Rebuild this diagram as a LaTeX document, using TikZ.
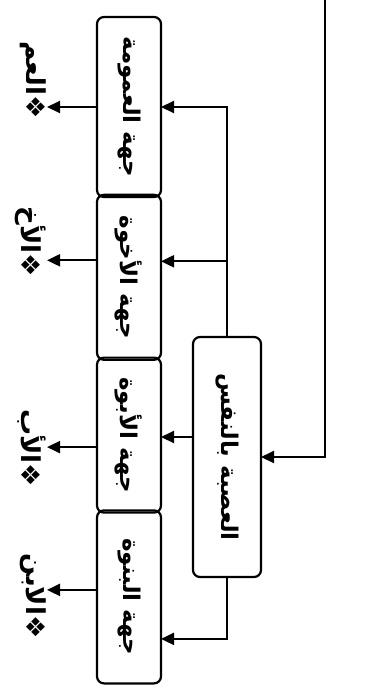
\documentclass[tikz,border=0pt]{standalone}
\usepackage{fontspec}
\usepackage{graphicx}
\newfontfamily\arfont[Script=Arabic]{DejaVu Sans}
\TeXXeTstate=1
\usetikzlibrary{positioning,arrows.meta}
\newcommand{\artext}[1]{\rotatebox{-90}{\arfont\bfseries\beginR #1\endR}}

\begin{document}
\begin{tikzpicture}[x=1pt,y=-1pt,
  box/.style={draw,rounded corners=7pt,line width=2.2pt,outer sep=0pt,minimum width=64pt,inner sep=0pt,font=\fontsize{23}{26}\selectfont},
  arr/.style={line width=2pt,-{Triangle[length=13pt,width=12pt]}},
  lab/.style={anchor=east,font=\fontsize{26}{28}\selectfont,inner sep=1pt}]
\useasboundingbox (0,0) rectangle (367,689);

\node[box,minimum height=180pt] (b1) at (129,107) {\artext{جهة العمومة}};
\node[box,minimum height=165pt] (b2) [below=-2.2pt of b1] {\artext{جهة الأخوة}};
\node[box,minimum height=155pt] (b3) [below=-2.2pt of b2] {\artext{جهة الأبوة}};
\node[box,minimum height=173pt] (b4) [below=-2.2pt of b3] {\artext{جهة البنوة}};

\node[box,minimum width=68pt,minimum height=240pt] (asaba) at (227,457) {\artext{العصبة بالنفس}};

\node[lab] (l1) at (47,80) {\artext{❖العم}};
\node[lab] (l2) at (47,242) {\artext{❖الأخ}};
\node[lab] (l3) at (47,448) {\artext{❖الأب}};
\node[lab] (l4) at (47,596) {\artext{❖الابن}};

\coordinate (top) at (325,0);

\draw[arr] (top) |- (asaba.east);
\draw[arr] (asaba.north) |- (b1.east);
\draw[arr] ([yshift=16pt]b2.east -| asaba.north) -- ([yshift=16pt]b2.east);
\draw[arr] ([yshift=20pt]asaba.west) -- ([yshift=20pt]asaba.west -| b3.east);
\draw[arr] (asaba.south) |- ([yshift=-42pt]b4.east);

\draw[arr] (b1.west) -- (b1.west -| l1.east);
\draw[arr] ([yshift=17pt]b2.west) -- ([yshift=17pt]b2.west -| l2.east);
\draw[arr] ([yshift=-12pt]b3.west) -- ([yshift=-12pt]b3.west -| l3.east);
\draw[arr] ([yshift=7pt]b4.west) -- ([yshift=7pt]b4.west -| l4.east);
\end{tikzpicture}
\end{document}
